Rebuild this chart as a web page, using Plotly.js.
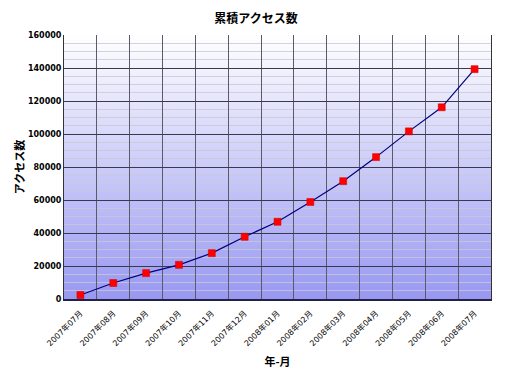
<!DOCTYPE html>
<html><head><meta charset="utf-8">
<script src="https://cdn.plot.ly/plotly-3.0.1.min.js"></script>
<style>html,body{margin:0;padding:0;background:#fff}</style>
</head><body>
<div id="chart" style="width:512px;height:384px"></div>
<script>
const months = ["2007年07月","2007年08月","2007年09月","2007年10月","2007年11月","2007年12月","2008年01月","2008年02月","2008年03月","2008年04月","2008年05月","2008年06月","2008年07月"];
const accessCounts = [2400, 9700, 15700, 20700, 27800, 37700, 46800, 58800, 71400, 86000, 101600, 116200, 139300];
const yTicks = [0, 20000, 40000, 60000, 80000, 100000, 120000, 140000, 160000];

const svg = '<svg xmlns="http://www.w3.org/2000/svg" width="100" height="100" preserveAspectRatio="none"><defs><linearGradient id="g" x1="0" y1="0" x2="0" y2="1"><stop offset="0" stop-color="#ffffff"/><stop offset="1" stop-color="#9898f2"/></linearGradient></defs><rect width="100" height="100" fill="url(#g)"/></svg>';
const bg = 'data:image/svg+xml;base64,' + btoa(svg);

const trace = {
  x: months, y: accessCounts, type: 'scatter', mode: 'lines+markers',
  line: {color: '#000080', width: 1.2},
  marker: {symbol: 'square', size: 7, color: '#ff0000', line: {color: '#cc0000', width: 0.5}},
  hoverinfo: 'none', showlegend: false
};

const layout = {
  width: 512, height: 384,
  margin: {l: 64, r: 21, t: 35, b: 85},
  paper_bgcolor: '#ffffff', plot_bgcolor: 'rgba(0,0,0,0)',
  font: {family: '"Noto Sans CJK JP", "DejaVu Sans", sans-serif', color: '#000'},
  title: {text: '<b>累積アクセス数</b>', x: 0.5, xanchor: 'center', y: 0.952, yanchor: 'middle',
          font: {size: 12, family: '"Noto Sans CJK JP", sans-serif', color: '#000'}},
  xaxis: {
    type: 'category', tickson: 'boundaries', range: [-0.5, 12.5],
    showgrid: true, gridcolor: '#5a5a6a', gridwidth: 1,
    ticks: '', tickangle: -45, ticklabelstandoff: 5,
    tickfont: {size: 8, color: '#000', family: '"DejaVu Sans", "Noto Sans CJK JP", sans-serif'},
    showline: true, linecolor: '#222244', linewidth: 1.5, mirror: false, zeroline: false,
    title: {text: '<b>年-月</b>', font: {size: 11}, standoff: 11}
  },
  yaxis: {
    range: [0, 160000], tickvals: yTicks, tickformat: 'd',
    showgrid: true, gridcolor: '#3a3a4a', gridwidth: 1,
    minor: {dtick: 5000, showgrid: true, gridcolor: 'rgba(200,200,215,0.8)', gridwidth: 1},
    ticks: '', tickfont: {size: 8, family: '"DejaVu Sans", sans-serif', weight: 'bold'},
    showline: true, linecolor: '#333', linewidth: 1, mirror: true, zeroline: false,
    title: {text: '<b>アクセス数</b>', font: {size: 11}, standoff: 1}
  },
  images: [{source: bg, xref: 'paper', yref: 'paper', x: 0, y: 1, sizex: 1, sizey: 1,
            xanchor: 'left', yanchor: 'top', sizing: 'stretch', layer: 'below'}]
};

Plotly.newPlot('chart', [trace], layout, {displayModeBar: false, staticPlot: true});
</script>
</body></html>
